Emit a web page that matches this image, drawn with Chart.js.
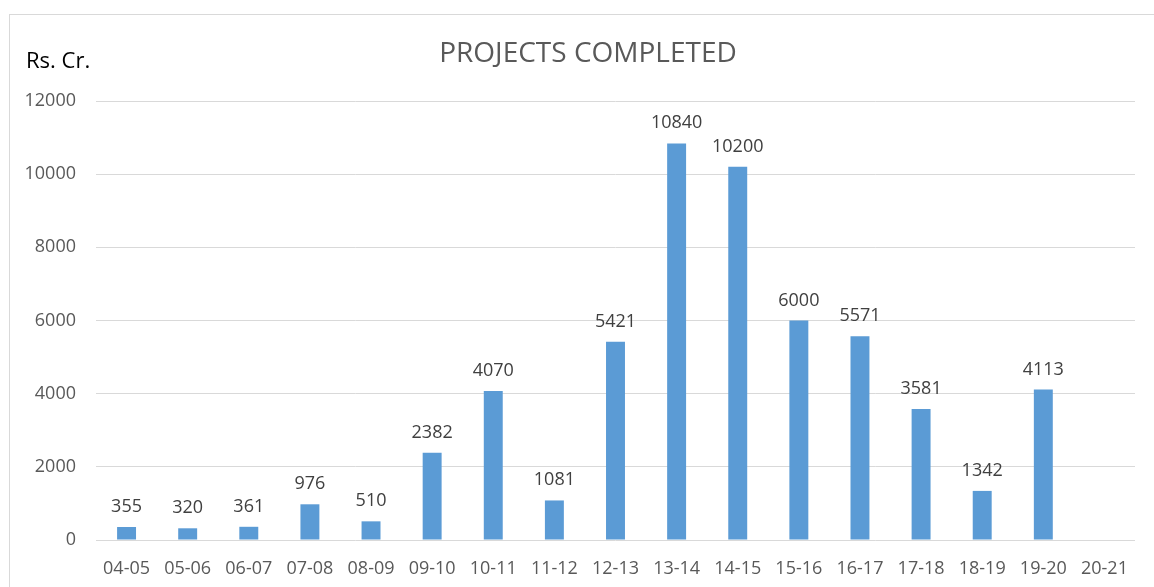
<!DOCTYPE html>
<html>
<head>
<meta charset="utf-8">
<script src="https://cdn.jsdelivr.net/npm/chart.js@4"></script>
<style>
  html, body { margin: 0; padding: 0; background: #fff; }
  #wrap { position: relative; width: 1154px; height: 587px; }
  #frame { position: absolute; left: 9px; top: 14px; right: -5px; bottom: -5px; border: 1px solid #d9d9d9; }
  canvas { position: absolute; left: 0; top: 0; }
</style>
</head>
<body>
<div id="wrap">
  <div id="frame"></div>
  <canvas id="projectsChart" width="1154" height="587"></canvas>
</div>
<script>
// Chart data
const years = ['04-05', '05-06', '06-07', '07-08', '08-09', '09-10', '10-11', '11-12', '12-13',
               '13-14', '14-15', '15-16', '16-17', '17-18', '18-19', '19-20', '20-21'];
const completed = [355, 320, 361, 976, 510, 2382, 4070, 1081, 5421,
                   10840, 10200, 6000, 5571, 3581, 1342, 4113, null];
const yTicks = [0, 2000, 4000, 6000, 8000, 10000, 12000];

const FONT = '"Open Sans", sans-serif';

// Title, unit label and value labels on top of the bars
const labelsPlugin = {
    id: 'labels',
    afterDatasetsDraw(chart) {
        const ctx = chart.ctx;
        ctx.save();
        ctx.fillStyle = '#595959';
        ctx.font = '28px ' + FONT;
        ctx.textAlign = 'center';
        ctx.textBaseline = 'middle';
        ctx.fillText('PROJECTS COMPLETED', 588, 54);

        ctx.fillStyle = '#000';
        ctx.font = '22px ' + FONT;
        ctx.textAlign = 'left';
        ctx.fillText('Rs. Cr.', 26, 62);

        ctx.fillStyle = '#404040';
        ctx.font = '18px ' + FONT;
        ctx.textAlign = 'center';
        ctx.textBaseline = 'alphabetic';
        const meta = chart.getDatasetMeta(0);
        meta.data.forEach(function(bar, i) {
            if (completed[i] == null) return;
            ctx.fillText(String(completed[i]), bar.x, bar.y - 15);
        });
        ctx.restore();
    }
};

new Chart(document.getElementById('projectsChart'), {
    type: 'bar',
    data: {
        labels: years,
        datasets: [{
            data: completed,
            backgroundColor: '#5b9bd5',
            barPercentage: 0.62,
            categoryPercentage: 0.5
        }]
    },
    options: {
        responsive: false,
        animation: false,
        layout: { padding: { top: 101, left: 0, right: 19, bottom: 0 } },
        plugins: { legend: { display: false }, tooltip: { enabled: false } },
        scales: {
            x: {
                grid: { display: false },
                border: { display: false },
                ticks: { color: '#595959', font: { family: FONT, size: 18 }, padding: 10, maxRotation: 0 },
                afterFit(scale) { scale.height = 47; }
            },
            y: {
                min: 0,
                max: 12000,
                afterBuildTicks(scale) { scale.ticks = yTicks.map(v => ({ value: v })); },
                grid: { color: '#d9d9d9', drawTicks: false },
                border: { display: false },
                ticks: {
                    color: '#595959', font: { family: FONT, size: 18 }, padding: 20,
                    callback: v => String(v)
                },
                afterFit(scale) { scale.width = 96; }
            }
        }
    },
    plugins: [labelsPlugin]
});
</script>
</body>
</html>
